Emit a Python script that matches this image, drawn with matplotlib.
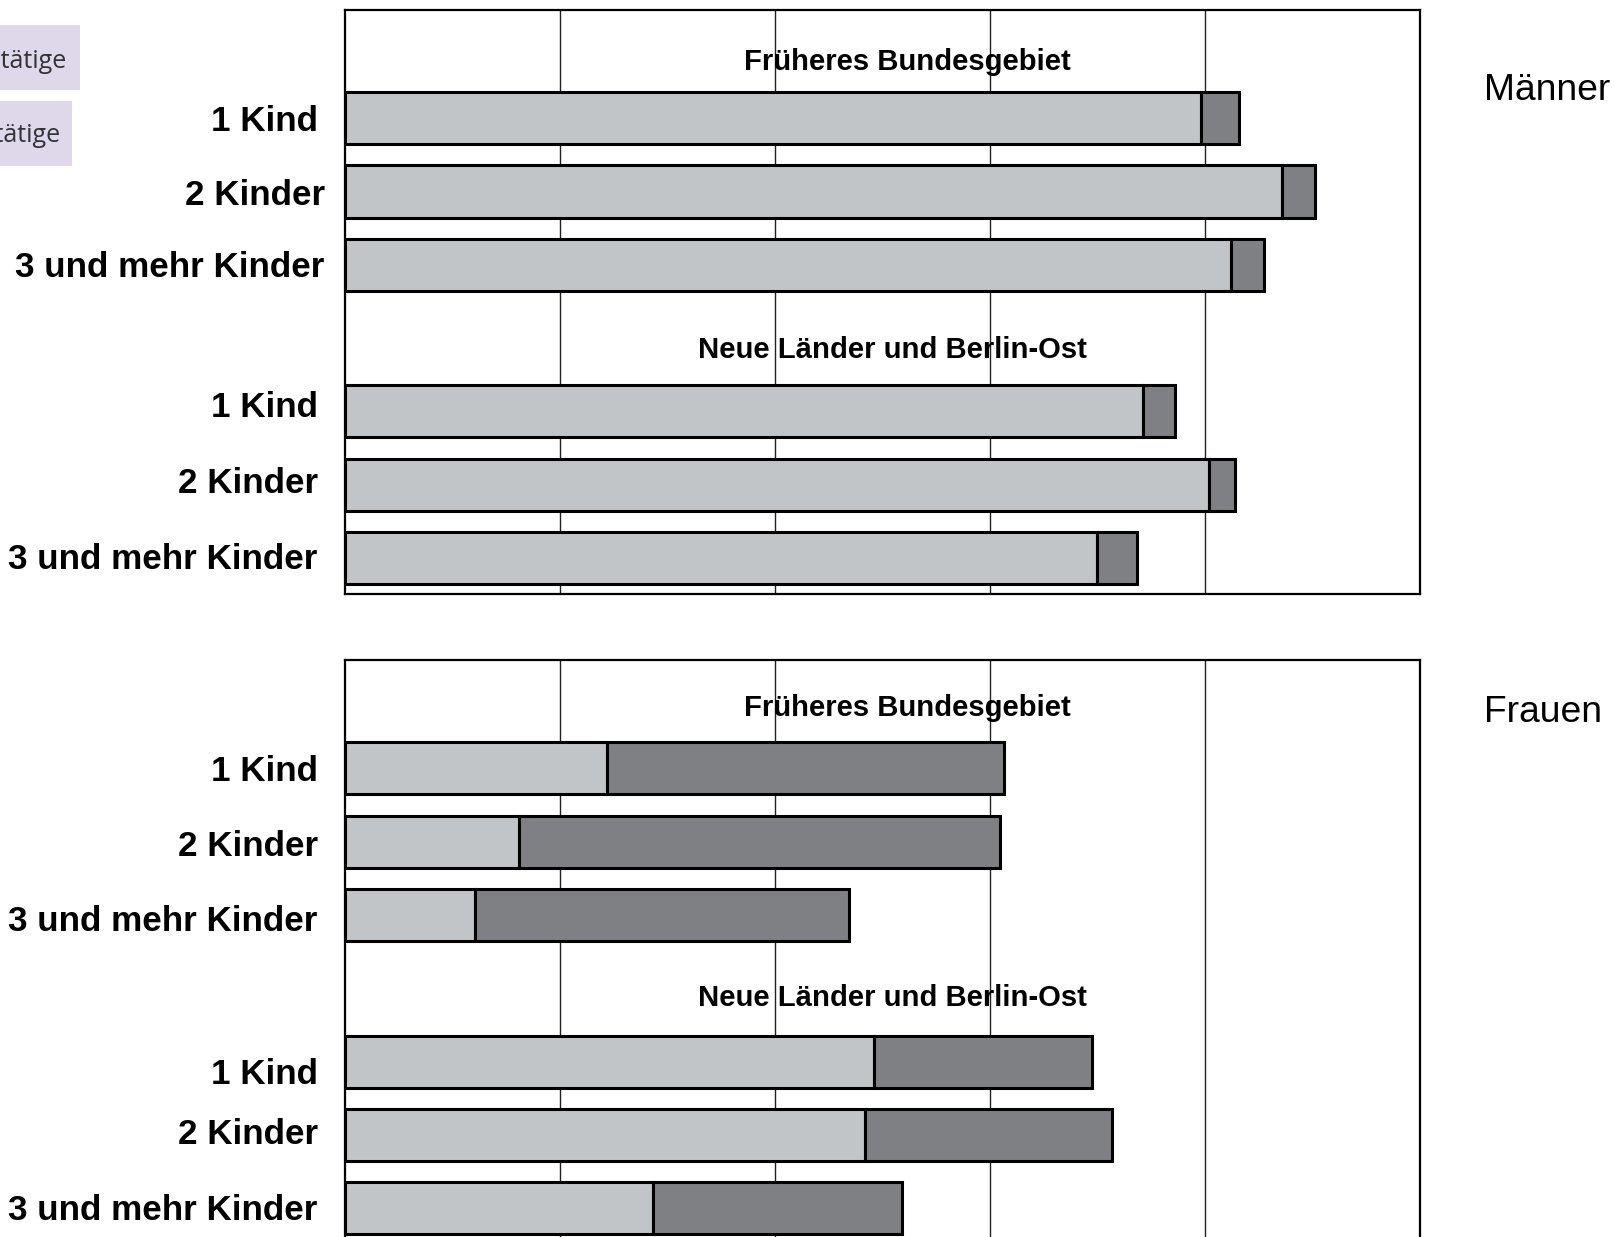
import matplotlib
matplotlib.use("Agg")
import matplotlib.pyplot as plt
from matplotlib.patches import Rectangle

plt.rcParams['font.family'] = ['Liberation Sans', 'DejaVu Sans']

# data (percent)
labels = ["1 Kind", "2 Kinder", "3 und mehr Kinder",
          "1 Kind", "2 Kinder", "3 und mehr Kinder"]
groups = ["Früheres Bundesgebiet", "Neue Länder und Berlin-Ost"]
slots = [1, 2, 3, 5, 6, 7]

maenner_voll = [79.6, 87.2, 82.4, 74.2, 80.4, 70.0]
maenner_teil = [3.6, 3.0, 3.1, 3.0, 2.4, 3.7]
frauen_voll = [24.4, 16.2, 12.1, 49.2, 48.4, 28.7]
frauen_teil = [36.9, 44.7, 34.8, 20.3, 23.0, 23.1]

light = "#c2c5c8"
dark = "#7f8084"

fig = plt.figure(figsize=(16.14, 12.37), dpi=100)

# label offsets in pixels (x: right edge from axes, y: nudge)
offs_top = [(-27, -3), (-20, -4), (-20, -3), (-27, 4), (-27, 1), (-27, -1)]
offs_bot = [(-27, -3), (-27, -5), (-27, -6), (-27, -13), (-27, 1), (-27, -2)]


def draw(ax, voll, teil, offs, ty):
    ax.barh(slots, voll, height=0.71, color=light, edgecolor="black",
            linewidth=2.2, zorder=3)
    ax.barh(slots, teil, left=voll, height=0.71, color=dark,
            edgecolor="black", linewidth=2.2, zorder=3)
    ax.set_xlim(0, 100)
    ax.set_ylim(7.49, -0.48)
    ax.set_xticks([20, 40, 60, 80])
    ax.set_yticks([])
    ax.tick_params(length=0, labelbottom=False)
    ax.grid(axis="x", color="#222222", linewidth=1.0, zorder=0)
    for s in ax.spines.values():
        s.set_linewidth(1.6)
        s.set_color("black")
    ax.text(52.3, ty[0], groups[0], ha="center", va="center",
            fontsize=21.1, fontweight="bold", zorder=5)
    ax.text(50.9, ty[1], groups[1], ha="center", va="center",
            fontsize=21.1, fontweight="bold", zorder=5)
    for y, lab, o in zip(slots, labels, offs):
        ax.annotate(lab, xy=(0, y), xycoords=("axes fraction", "data"),
                    xytext=o, textcoords="offset pixels",
                    ha="right", va="center", fontsize=25.2,
                    fontweight="bold", annotation_clip=False)


ax1 = fig.add_axes([0.2136, 0.5198, 0.6662, 0.4724])
draw(ax1, maenner_voll, maenner_teil, offs_top, (0.23, 4.16))
ax2 = fig.add_axes([0.2136, -0.0059, 0.6662, 0.4724])
draw(ax2, frauen_voll, frauen_teil, offs_bot, (0.18, 4.13))

fig.text(1484 / 1614, 1 - 91 / 1237, "Männer", ha="left", va="center",
         fontsize=26.8)
fig.text(1484 / 1614, 1 - 712 / 1237, "Frauen", ha="left", va="center",
         fontsize=26.8)

# cut-off legend boxes at the left edge
for (x0, y0, x1, y1, tx, ty, txt) in [
        (0, 25, 80, 90, 66, 61, "Vollzeiterwerbstätige"),
        (0, 101, 72, 166, 61, 136, "Teilzeiterwerbstätige")]:
    fig.add_artist(Rectangle((x0 / 1614, 1 - y1 / 1237), (x1 - x0) / 1614,
                             (y1 - y0) / 1237, transform=fig.transFigure,
                             facecolor="#dfd8eb", edgecolor="none"))
    fig.text(tx / 1614, 1 - ty / 1237, txt, ha="right", va="center",
             fontsize=18, color="#333333", family=["Open Sans", "DejaVu Sans"])

fig.savefig("out.png", dpi=100)
